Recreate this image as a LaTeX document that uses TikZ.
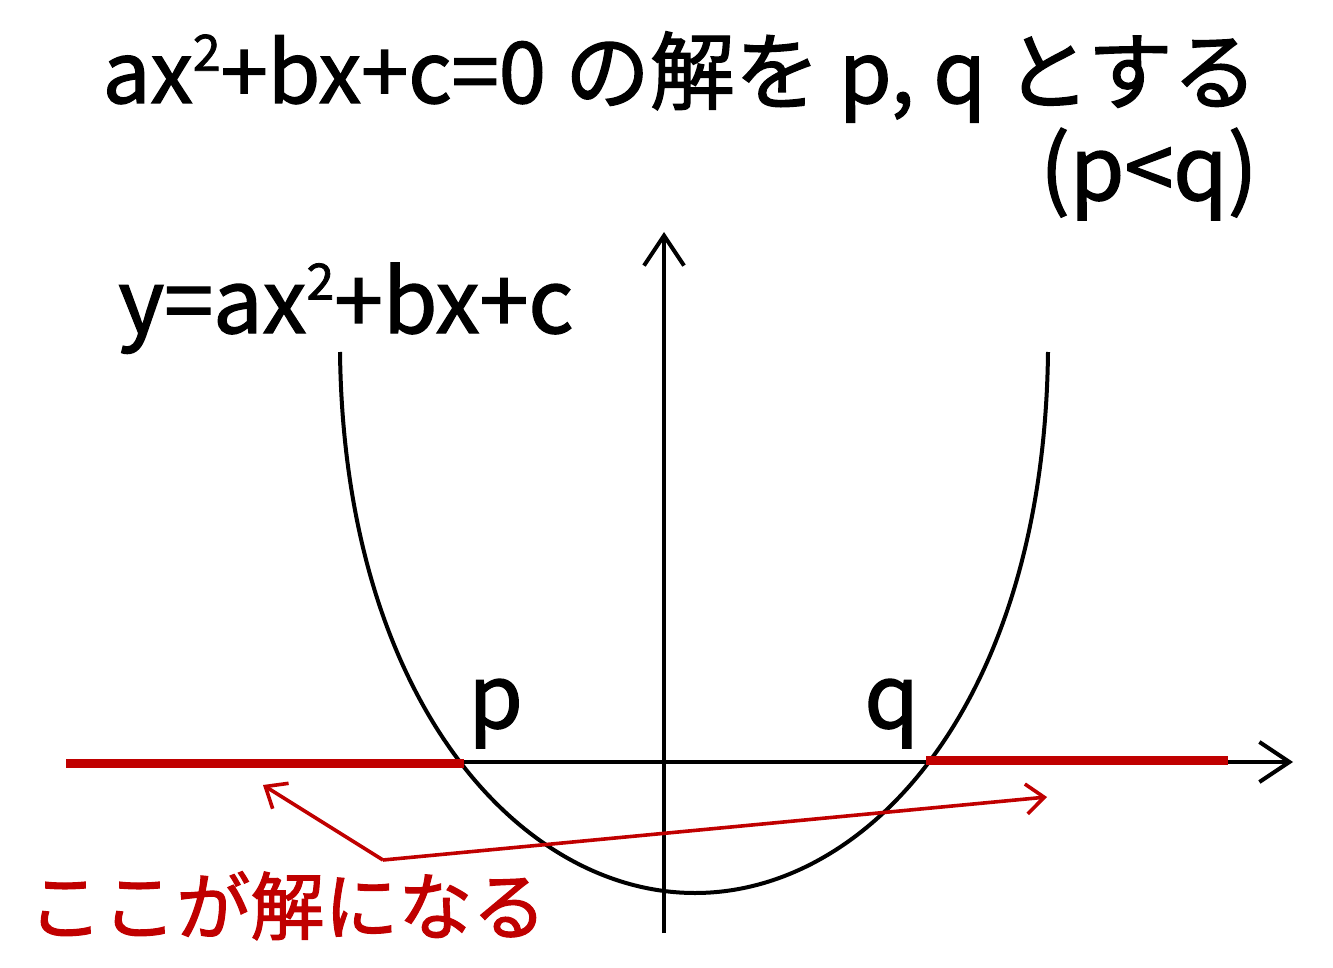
\documentclass[tikz,border=0pt]{standalone}
\usepackage{fontspec}
\setmainfont{Noto Sans CJK JP}[FakeBold=1.6]
\usetikzlibrary{arrows.meta}
\definecolor{solred}{RGB}{192,0,0}
\newcommand\mysup[1]{\raisebox{0.38em}{\fontsize{25}{25}\selectfont #1}}
\tikzset{
  big/.style={inner sep=0pt, font=\fontsize{42.5}{50}\selectfont},
  lbl/.style={inner sep=0pt, font=\fontsize{44}{50}\selectfont},
  note/.style={inner sep=0pt, text=solred, font=\fontsize{37}{44}\selectfont},
  axis/.style={line width=2pt, -{Straight Barb[length=15pt,width=20pt,line width=2pt]}},
  curve/.style={line width=2pt},
  sol/.style={line width=4.5pt, solred},
  pointer/.style={line width=1.8pt, solred, -{Straight Barb[length=9pt,width=15pt,line width=1.8pt]}}
}
\begin{document}
\begin{tikzpicture}[x=0.5pt,y=-0.5pt]
\useasboundingbox (0,0) rectangle (1333,968);
% texts
\node[big, anchor=base east] (title) at (1258,103) {ax\mysup{2}+bx+c=0 の解を p, q とする};
\node[lbl, anchor=base east] (cond) at (1258,200) {(p<q)};
\node[lbl, anchor=base west] (func) at (118,333) {y=ax\mysup{2}+bx+c};
\node[lbl, anchor=base west] (plab) at (468,728) {p};
\node[lbl, anchor=base west] (qlab) at (864,728) {q};
\node[note, anchor=base west] (ans) at (28,934) {ここが解になる};
% axes
\coordinate (xs) at (66,762);
\coordinate (xe) at (1293,762);
\coordinate (ys) at (664,933);
\coordinate (ye) at (664,232);
\draw[axis] (xs) -- (xe);
\draw[axis] (ys) -- (ye);
% curve
\coordinate (lt) at (340,352);
\coordinate (bt) at (695,893);
\coordinate (rt) at (1048,352);
\draw[curve] (lt) .. controls (344,700) and (520,893) .. (bt)
                  .. controls (870,893) and (1044,700) .. (rt);
% solution ranges
\coordinate (P) at (464,763);
\coordinate (Q) at (926,760);
\coordinate (ls) at (66,763);
\coordinate (re) at (1228,760);
\draw[sol] (ls) -- (P);
\draw[sol] (Q) -- (re);
% pointers
\coordinate (hub) at (383,860);
\coordinate (la) at (263,785);
\coordinate (ra) at (1047,797);
\draw[pointer] (hub) -- (la);
\draw[pointer] (hub) -- (ra);
\end{tikzpicture}
\end{document}
